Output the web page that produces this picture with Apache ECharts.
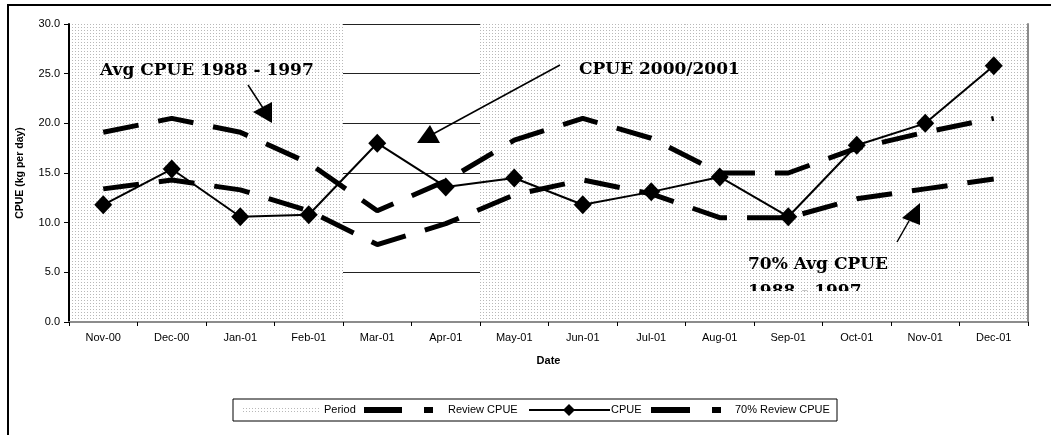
<!DOCTYPE html>
<html>
<head>
<meta charset="utf-8">
<script src="https://cdn.jsdelivr.net/npm/echarts@6/dist/echarts.min.js"></script>
<style>
  html, body { margin: 0; padding: 0; background: #fff; }
  #chart { width: 1051px; height: 435px; }
</style>
</head>
<body>
<div id="chart"></div>
<script>
// months on the x axis
var months = ['Nov-00', 'Dec-00', 'Jan-01', 'Feb-01', 'Mar-01', 'Apr-01', 'May-01',
  'Jun-01', 'Jul-01', 'Aug-01', 'Sep-01', 'Oct-01', 'Nov-01', 'Dec-01']
// shaded period (full height bars), open months left empty
var period = [30, 30, 30, 30, null, null, 30, 30, 30, 30, 30, 30, 30, 30]
// Avg CPUE 1988 - 1997
var reviewCpue = [19.1, 20.5, 19.1, 16.0, 11.2, 14.2, 18.3, 20.5, 18.5, 15.0, 15.0, 17.5, 19.1, 20.5]
// CPUE 2000/2001
var cpue = [11.8, 15.4, 10.6, 10.8, 18.0, 13.6, 14.5, 11.8, 13.1, 14.6, 10.6, 17.8, 20.0, 25.8]
// 70% of the review average
var review70 = [13.4, 14.3, 13.3, 11.2, 7.8, 9.9, 12.8, 14.3, 12.9, 10.5, 10.5, 12.4, 13.4, 14.4]
// y axis ticks
var yMin = 0
var yMax = 30
var yStep = 5

// dotted fill like the excel "period" pattern
function dotPattern () {
  var c = document.createElement('canvas')
  c.width = 3
  c.height = 3
  var g = c.getContext('2d')
  g.fillStyle = '#ffffff'
  g.fillRect(0, 0, 3, 3)
  g.fillStyle = '#b8b8b8'
  g.fillRect(0, 0, 1, 1)
  return c
}
var dots = { image: dotPattern(), repeat: 'repeat' }

var sans = 'Liberation Sans, Arial, sans-serif'
var serifBold = 'bold 17px "DejaVu Serif", "Liberation Serif", serif'
var dash = [36, 20]

var chart = echarts.init(document.getElementById('chart'))

var graphics = [
  // outer frame
  { type: 'rect', shape: { x: 8, y: 5, width: 1050, height: 500 }, style: { fill: 'none', stroke: '#000', lineWidth: 2 }, z: 10 },

  // annotations
  { type: 'text', style: { x: 100, y: 71, text: 'Avg CPUE 1988 - 1997', font: serifBold, fill: '#000', verticalAlign: 'middle' }, z: 20 },
  { type: 'line', shape: { x1: 248, y1: 85, x2: 263, y2: 108 }, style: { stroke: '#000', lineWidth: 1.5 }, z: 20 },
  { type: 'polygon', shape: { points: [[272, 123], [253, 112], [272, 102]] }, style: { fill: '#000' }, z: 20 },

  { type: 'text', style: { x: 579, y: 70, text: 'CPUE 2000/2001', font: serifBold, fill: '#000', verticalAlign: 'middle' }, z: 20 },
  { type: 'line', shape: { x1: 560, y1: 65, x2: 433, y2: 134 }, style: { stroke: '#000', lineWidth: 1.5 }, z: 20 },
  { type: 'polygon', shape: { points: [[417, 143], [430, 125], [440, 143]] }, style: { fill: '#000' }, z: 20 },

  { type: 'text', style: { x: 748, y: 265, text: '70% Avg CPUE', font: serifBold, fill: '#000', verticalAlign: 'middle' }, z: 20 },
  { type: 'text', style: { x: 748, y: 292, text: '1988 - 1997', font: serifBold, fill: '#000', verticalAlign: 'middle' }, z: 20 },
  // text box is cut off here in the original
  { type: 'rect', shape: { x: 744, y: 291, width: 130, height: 30 }, style: { fill: dots }, z: 21 },
  { type: 'line', shape: { x1: 897, y1: 242, x2: 909, y2: 221 }, style: { stroke: '#000', lineWidth: 1.5 }, z: 20 },
  { type: 'polygon', shape: { points: [[920, 203], [902, 218], [920, 225]] }, style: { fill: '#000' }, z: 20 },

  // legend
  { type: 'rect', shape: { x: 233, y: 399, width: 604, height: 22 }, style: { fill: '#fff', stroke: '#000', lineWidth: 1 }, z: 20 },
  { type: 'rect', shape: { x: 241, y: 406, width: 80, height: 8 }, style: { fill: dots }, z: 21 },
  { type: 'text', style: { x: 324, y: 410, text: 'Period', font: '11px ' + sans, fill: '#000', verticalAlign: 'middle' }, z: 21 },
  { type: 'rect', shape: { x: 364, y: 407, width: 38, height: 6 }, style: { fill: '#000' }, z: 21 },
  { type: 'rect', shape: { x: 424, y: 407, width: 9, height: 6 }, style: { fill: '#000' }, z: 21 },
  { type: 'text', style: { x: 448, y: 410, text: 'Review CPUE', font: '11px ' + sans, fill: '#000', verticalAlign: 'middle' }, z: 21 },
  { type: 'line', shape: { x1: 529, y1: 410, x2: 610, y2: 410 }, style: { stroke: '#000', lineWidth: 2 }, z: 21 },
  { type: 'polygon', shape: { points: [[569, 404], [575, 410], [569, 416], [563, 410]] }, style: { fill: '#000' }, z: 21 },
  { type: 'text', style: { x: 611, y: 410, text: 'CPUE', font: '11px ' + sans, fill: '#000', verticalAlign: 'middle' }, z: 21 },
  { type: 'rect', shape: { x: 651, y: 407, width: 39, height: 6 }, style: { fill: '#000' }, z: 21 },
  { type: 'rect', shape: { x: 712, y: 407, width: 9, height: 6 }, style: { fill: '#000' }, z: 21 },
  { type: 'text', style: { x: 735, y: 410, text: '70% Review CPUE', font: '11px ' + sans, fill: '#000', verticalAlign: 'middle' }, z: 21 }
]

var options = {
  animation: false,
  backgroundColor: '#fff',
  grid: { left: 69, top: 24, right: 23, bottom: 113 },
  xAxis: [
    {
      type: 'category',
      data: months,
      boundaryGap: true,
      name: 'Date',
      nameLocation: 'middle',
      nameGap: 33,
      nameTextStyle: { fontFamily: sans, fontSize: 11, fontWeight: 'bold', color: '#000' },
      axisLine: { lineStyle: { color: '#000', width: 2 } },
      axisTick: { show: true, length: 4, interval: 0, lineStyle: { color: '#000', width: 1 } },
      axisLabel: { interval: 0, margin: 10, fontFamily: sans, fontSize: 11, color: '#000' },
      splitLine: { show: false },
      z: 5
    },
    {
      // gray frame along the top
      type: 'category',
      data: months,
      position: 'top',
      axisLine: { lineStyle: { color: '#8c8c8c', width: 2 } },
      axisTick: { show: false },
      axisLabel: { show: false },
      z: 5
    }
  ],
  yAxis: [
    {
      // labels + gridlines, kept under the shaded bars
      type: 'value',
      min: yMin,
      max: yMax,
      interval: yStep,
      name: 'CPUE (kg per day)',
      nameLocation: 'middle',
      nameGap: 43,
      nameTextStyle: { fontFamily: sans, fontSize: 10.5, fontWeight: 'bold', color: '#000' },
      axisLine: { show: false },
      axisTick: { show: false },
      axisLabel: {
        margin: 9,
        fontFamily: sans,
        fontSize: 11,
        color: '#000',
        formatter: function (v) { return v.toFixed(1) }
      },
      splitLine: { show: true, lineStyle: { color: '#222', width: 1 } },
      z: 0
    },
    {
      // black axis line and ticks drawn on top
      type: 'value',
      min: yMin,
      max: yMax,
      interval: yStep,
      position: 'left',
      axisLine: { show: true, lineStyle: { color: '#000', width: 2 } },
      axisTick: { show: true, inside: false, length: 5, lineStyle: { color: '#000' } },
      axisLabel: { show: false },
      splitLine: { show: false },
      z: 5
    },
    {
      // gray frame on the right
      type: 'value',
      min: yMin,
      max: yMax,
      interval: yStep,
      position: 'right',
      axisLine: { show: true, lineStyle: { color: '#8c8c8c', width: 2 } },
      axisTick: { show: false },
      axisLabel: { show: false },
      splitLine: { show: false },
      z: 5
    }
  ],
  series: [
    {
      name: 'Period',
      type: 'bar',
      data: period,
      barWidth: '100%',
      barGap: '0%',
      itemStyle: { color: dots },
      silent: true,
      z: 1
    },
    {
      name: 'Review CPUE',
      type: 'line',
      data: reviewCpue,
      showSymbol: false,
      symbol: 'none',
      lineStyle: { color: '#000', width: 5, type: dash, cap: 'butt' },
      z: 3
    },
    {
      name: '70% Review CPUE',
      type: 'line',
      data: review70,
      showSymbol: false,
      symbol: 'none',
      lineStyle: { color: '#000', width: 5, type: dash, cap: 'butt' },
      z: 3
    },
    {
      name: 'CPUE',
      type: 'line',
      data: cpue,
      symbol: 'diamond',
      symbolSize: [18, 19],
      itemStyle: { color: '#000' },
      lineStyle: { color: '#000', width: 2 },
      z: 4
    }
  ],
  graphic: graphics
}

chart.setOption(options)
</script>
</body>
</html>
